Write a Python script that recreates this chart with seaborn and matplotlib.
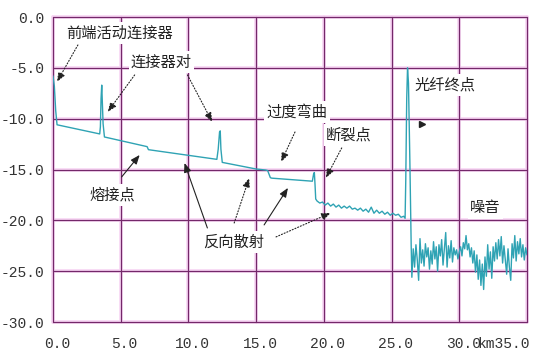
import numpy as np
import pandas as pd
import matplotlib
matplotlib.use('Agg')
import matplotlib.pyplot as plt
import matplotlib.transforms as mtransforms
import seaborn as sns

# OTDR trace (distance in km, level in dB)
trace_km = [
    0.0, 0.1, 0.2, 0.3,
    3.45, 3.5, 3.55, 3.6, 3.65, 3.7, 3.8,
    6.95, 7.05,
    12.1, 12.2, 12.3, 12.35, 12.4, 12.5,
    15.0, 15.7, 15.85, 16.05, 16.15,
    19.15, 19.25, 19.3, 19.35, 19.4,
]
trace_db = [
    -5.8, -6.8, -9.2, -10.6,
    -11.5, -10.8, -8.0, -6.7, -8.5, -10.5, -11.8,
    -12.75, -13.05,
    -14.0, -13.0, -11.3, -11.2, -13.0, -14.3,
    -14.95, -15.05, -15.1, -15.8, -15.85,
    -16.15, -15.4, -15.3, -16.5, -17.9,
]

# noisy backscatter after the break
scatter_km = [19.5, 19.7, 19.9, 20.1, 20.3, 20.5, 20.7, 20.9, 21.1, 21.3, 21.5,
              21.7, 21.9, 22.1, 22.3, 22.5, 22.7, 22.9, 23.1, 23.3, 23.5, 23.7,
              23.9, 24.1, 24.3, 24.5, 24.7, 24.9, 25.1, 25.3, 25.5, 25.7, 25.9, 26.0]
scatter_db = [-18.1, -18.3, -18.2, -18.5, -18.3, -18.6, -18.4, -18.7, -18.5, -18.8, -18.6,
              -18.8, -18.6, -18.9, -18.8, -19.0, -18.8, -19.1, -18.9, -19.2, -18.7, -19.3,
              -19.0, -19.3, -19.1, -19.4, -19.2, -19.5, -19.3, -19.5, -19.4, -19.7, -19.6, -19.8]

# fibre end reflection
end_km = [26.05, 26.12, 26.18, 26.25, 26.35, 26.45]
end_db = [-16.0, -8.0, -5.0, -6.5, -14.0, -22.5]

# noise floor
noise_km = [26.5, 26.6, 26.7, 26.8, 26.9, 27.0, 27.1, 27.2, 27.3, 27.4, 27.5, 27.6, 27.7,
            27.8, 27.9, 28.0, 28.1, 28.2, 28.3, 28.4, 28.5, 28.6, 28.7, 28.8, 28.9, 29.0,
            29.1, 29.2, 29.3, 29.4, 29.5, 29.6, 29.7, 29.8, 29.9, 30.0, 30.1, 30.2, 30.3,
            30.4, 30.5, 30.6, 30.7, 30.8, 30.9, 31.0, 31.1, 31.2, 31.3, 31.4, 31.5, 31.6,
            31.7, 31.8, 31.9, 32.0, 32.1, 32.2, 32.3, 32.4, 32.5, 32.6, 32.7, 32.8, 32.9,
            33.0, 33.1, 33.2, 33.3, 33.4, 33.5, 33.6, 33.7, 33.8, 33.9, 34.0, 34.1, 34.2,
            34.3, 34.4, 34.5, 34.6, 34.7, 34.8, 34.9, 35.0]
noise_db = [-25.6, -22.8, -24.6, -22.4, -23.9, -25.9, -21.8, -24.2, -22.9, -24.5, -22.3, -23.6, -22.7,
            -24.8, -23.0, -24.3, -22.1, -23.8, -22.6, -25.0, -22.4, -23.5, -21.9, -24.4, -22.8, -21.2,
            -24.6, -22.5, -23.7, -22.0, -24.1, -22.7, -23.4, -22.9, -23.8, -23.1, -22.6, -23.5, -22.2,
            -22.8, -21.5, -22.9, -22.3, -23.6, -22.7, -24.2, -23.0, -25.1, -23.4, -25.8, -23.9, -26.4,
            -24.3, -26.8, -23.6, -25.5, -22.4, -24.8, -23.1, -25.7, -22.6, -24.0, -22.2, -23.8, -21.9,
            -23.5, -21.6, -24.2, -22.5, -23.9, -25.3, -22.8, -24.6, -25.9, -22.3, -23.7, -21.5, -24.0,
            -22.1, -23.3, -21.8, -23.6, -22.4, -23.9, -22.7, -23.4]

x_ticks = [0, 5, 10, 15, 20, 25, 30]
x_tick_labels = ['0.0', '5.0', '10.0', '15.0', '20.0', '25.0', '30.0']
y_ticks = [0, -5, -10, -15, -20, -25, -30]
y_tick_labels = ['0.0', '-5.0', '-10.0', '-15.0', '-20.0', '-25.0', '-30.0']

df = pd.DataFrame({
    'km': trace_km + scatter_km + end_km + noise_km,
    'db': trace_db + scatter_db + end_db + noise_db,
})

sns.set_style('white')
plt.rcParams['font.family'] = ['Noto Sans CJK SC', 'DejaVu Sans']

fig = plt.figure(figsize=(5.39, 3.56), dpi=100)
ax = fig.add_axes([0.0983, 0.0955, 0.8794, 0.8567])

# grid with a soft pink halo like the scope screen
grid_dark = '#74286a'
grid_halo = '#f7d4f3'
for gx in range(0, 36, 5):
    ax.axvline(gx, color=grid_halo, lw=2.6, zorder=0, clip_on=False)
    ax.axvline(gx, color=grid_dark, lw=0.9, zorder=0.5, clip_on=False)
for gy in range(0, -31, -5):
    ax.axhline(gy, color=grid_halo, lw=2.6, zorder=0, clip_on=False)
    ax.axhline(gy, color=grid_dark, lw=0.9, zorder=0.5, clip_on=False)

sns.lineplot(data=df, x='km', y='db', sort=False, estimator=None,
             color='#2fa3b4', lw=1.0, ax=ax, zorder=2)

ax.set_xlim(0, 35)
ax.set_ylim(-30, 0)
for s in ax.spines.values():
    s.set_visible(False)
ax.set_xlabel('')
ax.set_ylabel('')
ax.set_xticks(x_ticks)
ax.set_xticklabels(x_tick_labels)
ax.set_yticks(y_ticks)
ax.set_yticklabels(y_tick_labels)
ax.tick_params(length=0, labelsize=10.5, colors='#333333')
ax.tick_params(axis='x', pad=11)
ax.tick_params(axis='y', pad=6)
shift = mtransforms.ScaledTranslation(4 / 100, 0, fig.dpi_scale_trans)
for lab in ax.get_xticklabels():
    lab.set_transform(lab.get_transform() + shift)
for lab in ax.get_xticklabels() + ax.get_yticklabels():
    lab.set_fontfamily('Liberation Mono')
ax.text(35.25, -30, 'km35.0', ha='right', va='top', fontsize=10.5,
        family='Liberation Mono', color='#333333',
        transform=ax.transData + mtransforms.ScaledTranslation(0, -11 / 72, fig.dpi_scale_trans))

box = dict(fc='white', ec='none', pad=1.5)
txt = dict(fontsize=11, color='#222222', ha='center', va='center', bbox=box, zorder=5)


def arrow(text_xy, tip_xy, style):
    ax.annotate('', xy=tip_xy, xytext=text_xy, zorder=4,
                arrowprops=dict(arrowstyle='-|>,head_length=0.55,head_width=0.22',
                                color='#222222', lw=0.8, ls=style,
                                shrinkA=0, shrinkB=0))


ax.text(4.93, -1.57, '前端活动连接器', **txt)
arrow((1.84, -2.75), (0.29, -6.39), ':')

ax.text(8.01, -4.42, '连接器对', **txt)
arrow((6.03, -5.70), (4.04, -9.34), ':')
arrow((9.93, -5.70), (11.76, -10.32), ':')

ax.text(4.41, -17.5, '熔接点', **txt)
arrow((5.07, -15.73), (6.40, -13.57), '-')

ax.text(13.31, -22.12, '反向散射', **txt)
arrow((11.40, -20.75), (9.71, -14.36), '-')
arrow((13.38, -20.26), (14.49, -15.83), ':')
arrow((15.59, -20.45), (17.35, -16.81), '-')
arrow((16.47, -21.63), (20.51, -19.27), ':')

ax.text(18.01, -9.34, '过度弯曲', **txt)
arrow((17.87, -11.31), (16.84, -14.26), ':')

ax.text(21.84, -11.6, '断裂点', **txt)
arrow((21.32, -12.88), (20.15, -15.83), ':')

ax.text(28.97, -6.69, '光纤终点', **txt)
ax.plot([27.25], [-10.52], marker='>', ms=5, color='#222222', zorder=4)

ax.text(31.91, -18.78, '噪音', **txt)

fig.savefig('out.png', dpi=100)
